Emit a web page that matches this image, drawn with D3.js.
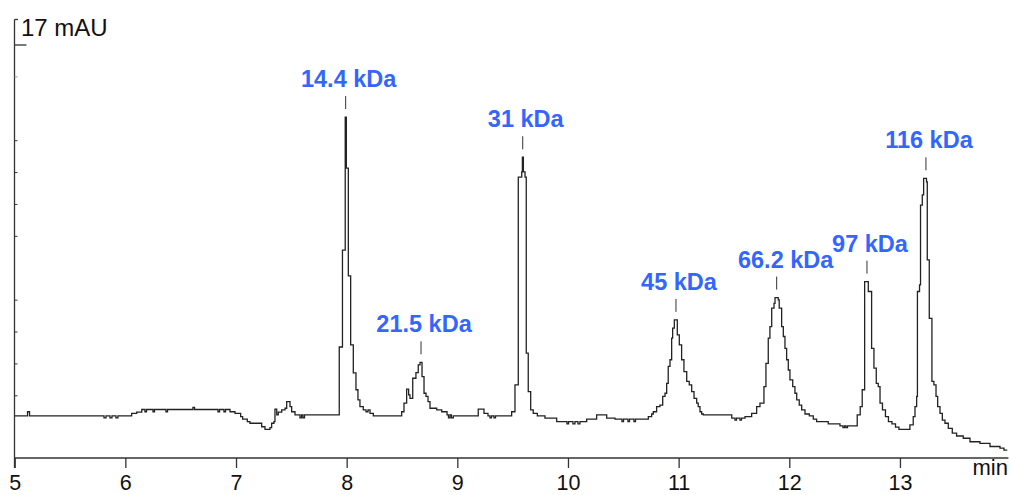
<!DOCTYPE html>
<html>
<head>
<meta charset="utf-8">
<script src="https://cdn.jsdelivr.net/npm/d3@7"></script>
<style>
  body { margin: 0; background: #fff; }
  text { font-family: Arial, "Liberation Sans", sans-serif; }
</style>
</head>
<body>
<div id="chart"></div>
<script>
/** Data (time in min, signal in mAU) */

var traceTime = [
  5.000, 5.116, 5.134, 5.807, 5.825, 5.861, 5.879, 5.915, 5.933, 6.057,
  6.102, 6.148, 6.177, 6.191, 6.250, 6.263, 6.367, 6.381, 6.611, 6.625,
  6.837, 6.851, 6.891, 6.905, 6.946, 6.991, 7.042, 7.060, 7.102, 7.126,
  7.232, 7.262, 7.307, 7.322, 7.343, 7.352, 7.368, 7.382, 7.413, 7.443,
  7.458, 7.488, 7.503, 7.533, 7.578, 7.592, 7.605, 7.619, 7.933, 7.962,
  7.987, 7.997, 8.015, 8.036, 8.060, 8.084, 8.102, 8.120, 8.150, 8.175,
  8.193, 8.211, 8.241, 8.497, 8.518, 8.542, 8.560, 8.572, 8.597, 8.626,
  8.647, 8.663, 8.681, 8.699, 8.717, 8.735, 8.753, 8.814, 8.859, 8.907,
  8.920, 8.934, 8.947, 8.964, 9.189, 9.241, 9.277, 9.295, 9.309, 9.331,
  9.345, 9.491, 9.521, 9.551, 9.582, 9.588, 9.597, 9.612, 9.623, 9.641,
  9.663, 9.686, 9.723, 9.792, 9.898, 9.991, 10.005, 10.045, 10.063, 10.090,
  10.108, 10.169, 10.259, 10.350, 10.425, 10.488, 10.502, 10.542, 10.556, 10.596,
  10.610, 10.726, 10.756, 10.771, 10.801, 10.831, 10.856, 10.877, 10.892, 10.906,
  10.922, 10.937, 10.946, 10.961, 10.988, 11.006, 11.027, 11.048, 11.073, 11.096,
  11.118, 11.139, 11.163, 11.177, 11.193, 11.208, 11.223, 11.480, 11.509, 11.523,
  11.554, 11.568, 11.600, 11.660, 11.705, 11.735, 11.771, 11.789, 11.810, 11.825,
  11.841, 11.862, 11.871, 11.900, 11.909, 11.931, 11.946, 11.961, 11.976, 11.991,
  12.006, 12.031, 12.051, 12.067, 12.090, 12.112, 12.142, 12.181, 12.217, 12.247,
  12.352, 12.458, 12.485, 12.499, 12.512, 12.526, 12.614, 12.641, 12.659, 12.681,
  12.714, 12.744, 12.765, 12.786, 12.804, 12.820, 12.842, 12.869, 12.896, 12.928,
  12.960, 12.991, 13.090, 13.120, 13.136, 13.151, 13.158, 13.177, 13.186, 13.202,
  13.214, 13.240, 13.247, 13.265, 13.289, 13.307, 13.326, 13.341, 13.362, 13.383,
  13.407, 13.437, 13.473, 13.512, 13.572, 13.633, 13.723, 13.814, 13.904, 13.940,
  13.970
];

var traceMAU = [
  5.37, 5.50, 5.37, 5.31, 5.37, 5.31, 5.37, 5.31, 5.37, 5.45,
  5.49, 5.57, 5.50, 5.57, 5.50, 5.57, 5.50, 5.57, 5.64, 5.57,
  5.50, 5.57, 5.50, 5.57, 5.50, 5.45, 5.35, 5.27, 5.19, 5.14,
  5.03, 4.95, 5.00, 5.14, 5.19, 5.58, 5.40, 5.49, 5.56, 5.61,
  5.82, 5.66, 5.50, 5.40, 5.31, 5.40, 5.31, 5.40, 7.53, 10.57,
  14.74, 13.14, 9.76, 7.60, 6.72, 6.19, 5.87, 5.66, 5.56, 5.50,
  5.56, 5.45, 5.37, 5.50, 5.77, 6.21, 6.03, 5.92, 6.55, 6.73,
  6.97, 7.05, 6.60, 6.08, 5.98, 5.82, 5.61, 5.56, 5.50, 5.40,
  5.31, 5.40, 5.31, 5.37, 5.58, 5.45, 5.37, 5.31, 5.37, 5.31,
  5.37, 5.50, 6.34, 12.86, 13.02, 13.48, 13.02, 12.86, 7.34, 6.13,
  5.56, 5.45, 5.37, 5.30, 5.19, 5.12, 5.19, 5.12, 5.19, 5.12,
  5.19, 5.27, 5.40, 5.30, 5.27, 5.19, 5.27, 5.19, 5.27, 5.19,
  5.27, 5.35, 5.43, 5.50, 5.66, 5.71, 5.98, 6.08, 6.39, 6.92,
  7.13, 7.81, 8.12, 8.38, 7.91, 7.60, 7.13, 6.76, 6.45, 6.34,
  6.13, 5.92, 5.77, 5.66, 5.50, 5.43, 5.40, 5.30, 5.24, 5.30,
  5.24, 5.30, 5.35, 5.45, 5.66, 5.77, 6.29, 7.02, 7.81, 8.17,
  8.75, 8.90, 9.08, 9.01, 8.75, 8.17, 7.86, 7.49, 7.13, 6.81,
  6.50, 6.29, 6.08, 5.87, 5.71, 5.56, 5.43, 5.37, 5.27, 5.19,
  5.12, 5.06, 5.00, 5.06, 5.00, 5.06, 5.40, 5.66, 6.19, 9.58,
  9.27, 7.49, 6.87, 6.39, 6.29, 5.77, 5.56, 5.35, 5.19, 5.12,
  5.02, 4.95, 5.09, 5.35, 5.66, 5.98, 9.27, 9.48, 11.98, 12.30,
  12.82, 12.71, 10.26, 8.43, 6.45, 6.34, 5.98, 5.66, 5.45, 5.24,
  5.14, 4.98, 4.83, 4.74, 4.67, 4.56, 4.51, 4.41, 4.36, 4.30,
  4.30
];

var peakLabels = ["14.4 kDa", "21.5 kDa", "31 kDa", "45 kDa", "66.2 kDa", "97 kDa", "116 kDa"];
var peakTimes = [7.991, 8.672, 9.591, 10.976, 11.886, 12.702, 13.235];

var xTicks = [5, 6, 7, 8, 9, 10, 11, 12, 13];
var yTicks = [16, 14, 13, 12, 11, 9, 8, 7, 6];
var yMajor = 17;
var yUnit = "mAU";
var xUnit = "min";

/** Layout */

var width = 1011;
var height = 495;
var labelColor = "#3366ff";
var inkColor = "#222";
var labelNudge = { "66.2 kDa": 6 };

var data = traceTime.map(function(t, i) { return { t: t, v: traceMAU[i] }; });

var svg = d3.select("#chart")
  .append("svg")
    .attr("width", width)
    .attr("height", height);

var x = d3.scaleLinear()
  .domain([5, 14])
  .range([14.7, 1010.6]);

var y = d3.scaleLinear()
  .domain([4.05, 17])
  .range([458, 45]);

var axisX = 14.5;
var yTopPx = y(17.8);

// X axis
var xAxis = svg.append("g")
  .attr("transform", "translate(0," + y.range()[0] + ")")
  .call(d3.axisBottom(x).tickValues(xTicks).tickSize(10).tickSizeOuter(0).tickPadding(7));
xAxis.select(".domain")
  .attr("d", "M" + x(5) + ",0H" + x(13.98))
  .attr("stroke", "#333")
  .attr("stroke-width", 1.3);
xAxis.selectAll(".tick line")
  .attr("stroke", "#333")
  .attr("stroke-width", 1.3);
xAxis.selectAll(".tick text")
  .attr("fill", "#111")
  .style("font-size", "21.5px")
  .style("font-family", "Arial, 'Liberation Sans', sans-serif");

svg.append("text")
  .attr("x", 1008)
  .attr("y", 475)
  .attr("text-anchor", "end")
  .attr("fill", "#111")
  .style("font-size", "22px")
  .text(xUnit);

// Y axis (line, bracket, ticks drawn inside)
var yAxisG = svg.append("g");
yAxisG.append("line")
  .attr("x1", axisX).attr("x2", axisX)
  .attr("y1", yTopPx).attr("y2", y.range()[0] + 10)
  .attr("stroke", "#333")
  .attr("stroke-width", 1.3);
yAxisG.append("line")
  .attr("x1", axisX).attr("x2", axisX + 3.5)
  .attr("y1", yTopPx).attr("y2", yTopPx)
  .attr("stroke", "#333")
  .attr("stroke-width", 1.3);
yAxisG.append("line")
  .attr("x1", axisX).attr("x2", axisX + 12)
  .attr("y1", y(yMajor)).attr("y2", y(yMajor))
  .attr("stroke", "#333")
  .attr("stroke-width", 1.3);
yAxisG.selectAll(".ytick")
  .data(yTicks)
  .enter()
  .append("line")
    .attr("class", "ytick")
    .attr("x1", axisX).attr("x2", axisX + 3)
    .attr("y1", function(d) { return y(d); })
    .attr("y2", function(d) { return y(d); })
    .attr("stroke", function(d) { return d === 16 ? "#999" : "#333"; })
    .attr("stroke-width", 1);

svg.append("text")
  .attr("x", 21)
  .attr("y", 36)
  .attr("fill", "#111")
  .style("font-size", "24px")
  .text(yMajor + " " + yUnit);

// Trace
svg.append("path")
  .datum(data)
  .attr("fill", "none")
  .attr("stroke", inkColor)
  .attr("stroke-width", 1.3)
  .attr("stroke-linejoin", "miter")
  .attr("d", d3.line()
    .x(function(d) { return x(d.t); })
    .y(function(d) { return y(d.v); })
    .curve(d3.curveStepAfter)
  );

// Peak labels
peakLabels.forEach(function(label, i) {
  var pt = peakTimes[i];
  var apex = d3.max(data.filter(function(d) { return Math.abs(d.t - pt) < 0.04; }), function(d) { return d.v; });
  var px = x(pt);
  var py = y(apex);

  svg.append("line")
    .attr("x1", px).attr("x2", px)
    .attr("y1", py - 21).attr("y2", py - 8)
    .attr("stroke", "#333")
    .attr("stroke-width", 1);

  svg.append("text")
    .attr("x", px + 3 + (labelNudge[label] || 0))
    .attr("y", py - 30)
    .attr("text-anchor", "middle")
    .attr("fill", labelColor)
    .style("font-size", "23.5px")
    .style("font-weight", "bold")
    .text(label);
});
</script>
</body>
</html>
